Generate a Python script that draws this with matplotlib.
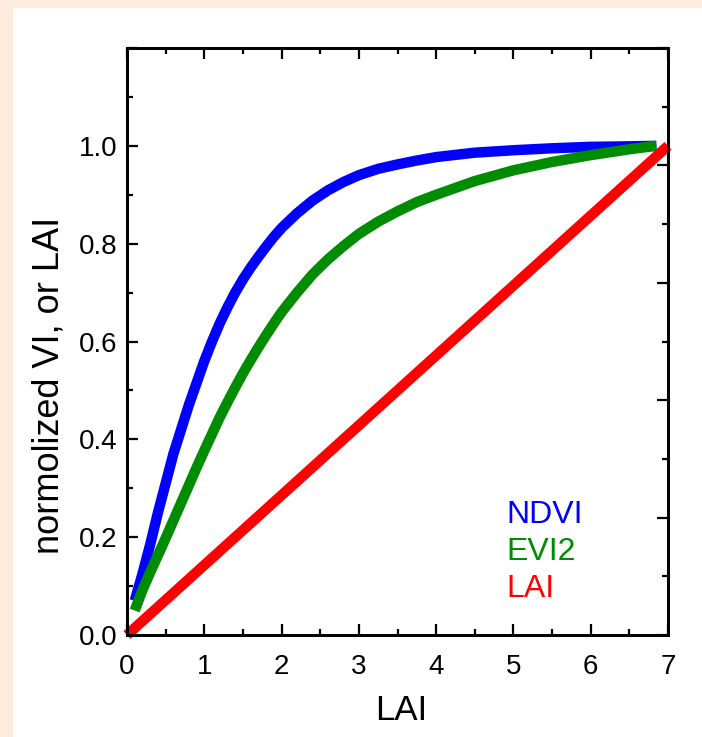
import matplotlib
matplotlib.use("Agg")
import matplotlib.pyplot as plt
from matplotlib.patches import Rectangle
from matplotlib.ticker import MultipleLocator, FixedLocator, NullFormatter

# ---- data ----
ndvi_x = [0.1, 0.2, 0.3, 0.4, 0.5, 0.6, 0.7, 0.8, 0.9, 1.0, 1.1, 1.2, 1.3,
          1.4, 1.5, 1.6, 1.7, 1.8, 1.9, 2.0, 2.2, 2.4, 2.6, 2.8, 3.0, 3.25,
          3.5, 3.75, 4.0, 4.5, 5.0, 5.5, 6.0, 6.5, 6.85]
ndvi = [0.07, 0.125, 0.185, 0.25, 0.31, 0.37, 0.42, 0.47, 0.515, 0.56, 0.60,
        0.637, 0.67, 0.70, 0.727, 0.751, 0.773, 0.794, 0.814, 0.832, 0.862,
        0.888, 0.909, 0.926, 0.94, 0.953, 0.962, 0.970, 0.977, 0.986, 0.991,
        0.995, 0.998, 0.999, 1.0]
evi2_x = ndvi_x
evi2 = [0.05, 0.092, 0.128, 0.163, 0.198, 0.234, 0.27, 0.306, 0.342, 0.377,
        0.411, 0.445, 0.476, 0.506, 0.535, 0.562, 0.588, 0.613, 0.637, 0.66,
        0.70, 0.737, 0.768, 0.795, 0.82, 0.845, 0.866, 0.885, 0.90, 0.928,
        0.95, 0.967, 0.981, 0.993, 1.0]
lai_line_x = [0.0, 7.0]
lai_line_y = [0.0, 1.0]
series_names = ["NDVI", "EVI2", "LAI"]
series_colors = ["#0000FF", "#008C00", "#FF0000"]
y_ticklabels = ["0.0", "0.2", "0.4", "0.6", "0.8", "1.0"]
x_ticklabels = ["0", "1", "2", "3", "4", "5", "6", "7"]

FONT = "Liberation Sans"
W, H = 702, 737
fig = plt.figure(figsize=(W / 100, H / 100), dpi=100)
fig.patch.set_facecolor("#FDEBDC")
fig.add_artist(Rectangle((13 / W, 0), 1 - 13 / W, 1 - 8 / H,
                         transform=fig.transFigure, facecolor="white",
                         edgecolor="none", zorder=-10))

left, right, bottom, top = 127 / W, 668 / W, 1 - 635 / H, 1 - 48 / H
ax = fig.add_axes([left, bottom, right - left, top - bottom])
ax.set_facecolor("white")

lw = 7.5
ax.plot(ndvi_x, ndvi, color=series_colors[0], lw=lw, solid_capstyle="butt",
        solid_joinstyle="round", clip_on=False)
ax.plot(evi2_x, evi2, color=series_colors[1], lw=lw, solid_capstyle="butt",
        solid_joinstyle="round", clip_on=False)
ax.plot(lai_line_x, lai_line_y, color=series_colors[2], lw=lw,
        solid_capstyle="butt", clip_on=False)

ax.set_xlim(0, 7)
ax.set_ylim(0, 1.2)
ax.set_xticks(range(len(x_ticklabels)))
ax.set_xticklabels(x_ticklabels)
ax.xaxis.set_minor_locator(MultipleLocator(0.5))
ax.yaxis.set_major_locator(FixedLocator([0, 0.2, 0.4, 0.6, 0.8, 1.0, 1.2]))
ax.yaxis.set_minor_locator(MultipleLocator(0.1))
ax.set_yticklabels(y_ticklabels + [""])

for s in ax.spines.values():
    s.set_linewidth(2.0)

ax.tick_params(which="major", direction="in", length=8, width=1.6,
               top=True, right=False, labelsize=20)
ax.tick_params(which="minor", direction="in", length=4.5, width=1.6,
               top=True, right=False)
ax.tick_params(axis="x", which="major", pad=14)
ax.tick_params(axis="y", which="major", pad=7)
for lab in ax.get_xticklabels() + ax.get_yticklabels():
    lab.set_fontfamily(FONT)

# right axis with its own (unlabelled) scale
ax2 = ax.twinx()
ax2.set_ylim(0, 5)
ax2.yaxis.set_major_locator(MultipleLocator(1))
ax2.yaxis.set_minor_locator(MultipleLocator(0.5))
ax2.yaxis.set_major_formatter(NullFormatter())
ax2.tick_params(which="major", direction="in", length=8, width=1.6)
ax2.tick_params(which="minor", direction="in", length=4.5, width=1.6)
for s in ax2.spines.values():
    s.set_linewidth(2.0)

fig.text(401 / W, 1 - 710 / H, "LAI", ha="center", va="center",
         fontsize=25, family=FONT)
fig.text(49 / W, 1 - 385 / H, "normolized VI, or LAI", ha="center",
         va="center", rotation=90, fontsize=26, family=FONT)

for i, (name, c) in enumerate(zip(series_names, series_colors)):
    fig.text(506 / W, 1 - (523 + 37 * i) / H, name, color=c, ha="left",
             va="baseline", fontsize=23, family=FONT)

fig.savefig("out.png", dpi=100, facecolor=fig.get_facecolor())
